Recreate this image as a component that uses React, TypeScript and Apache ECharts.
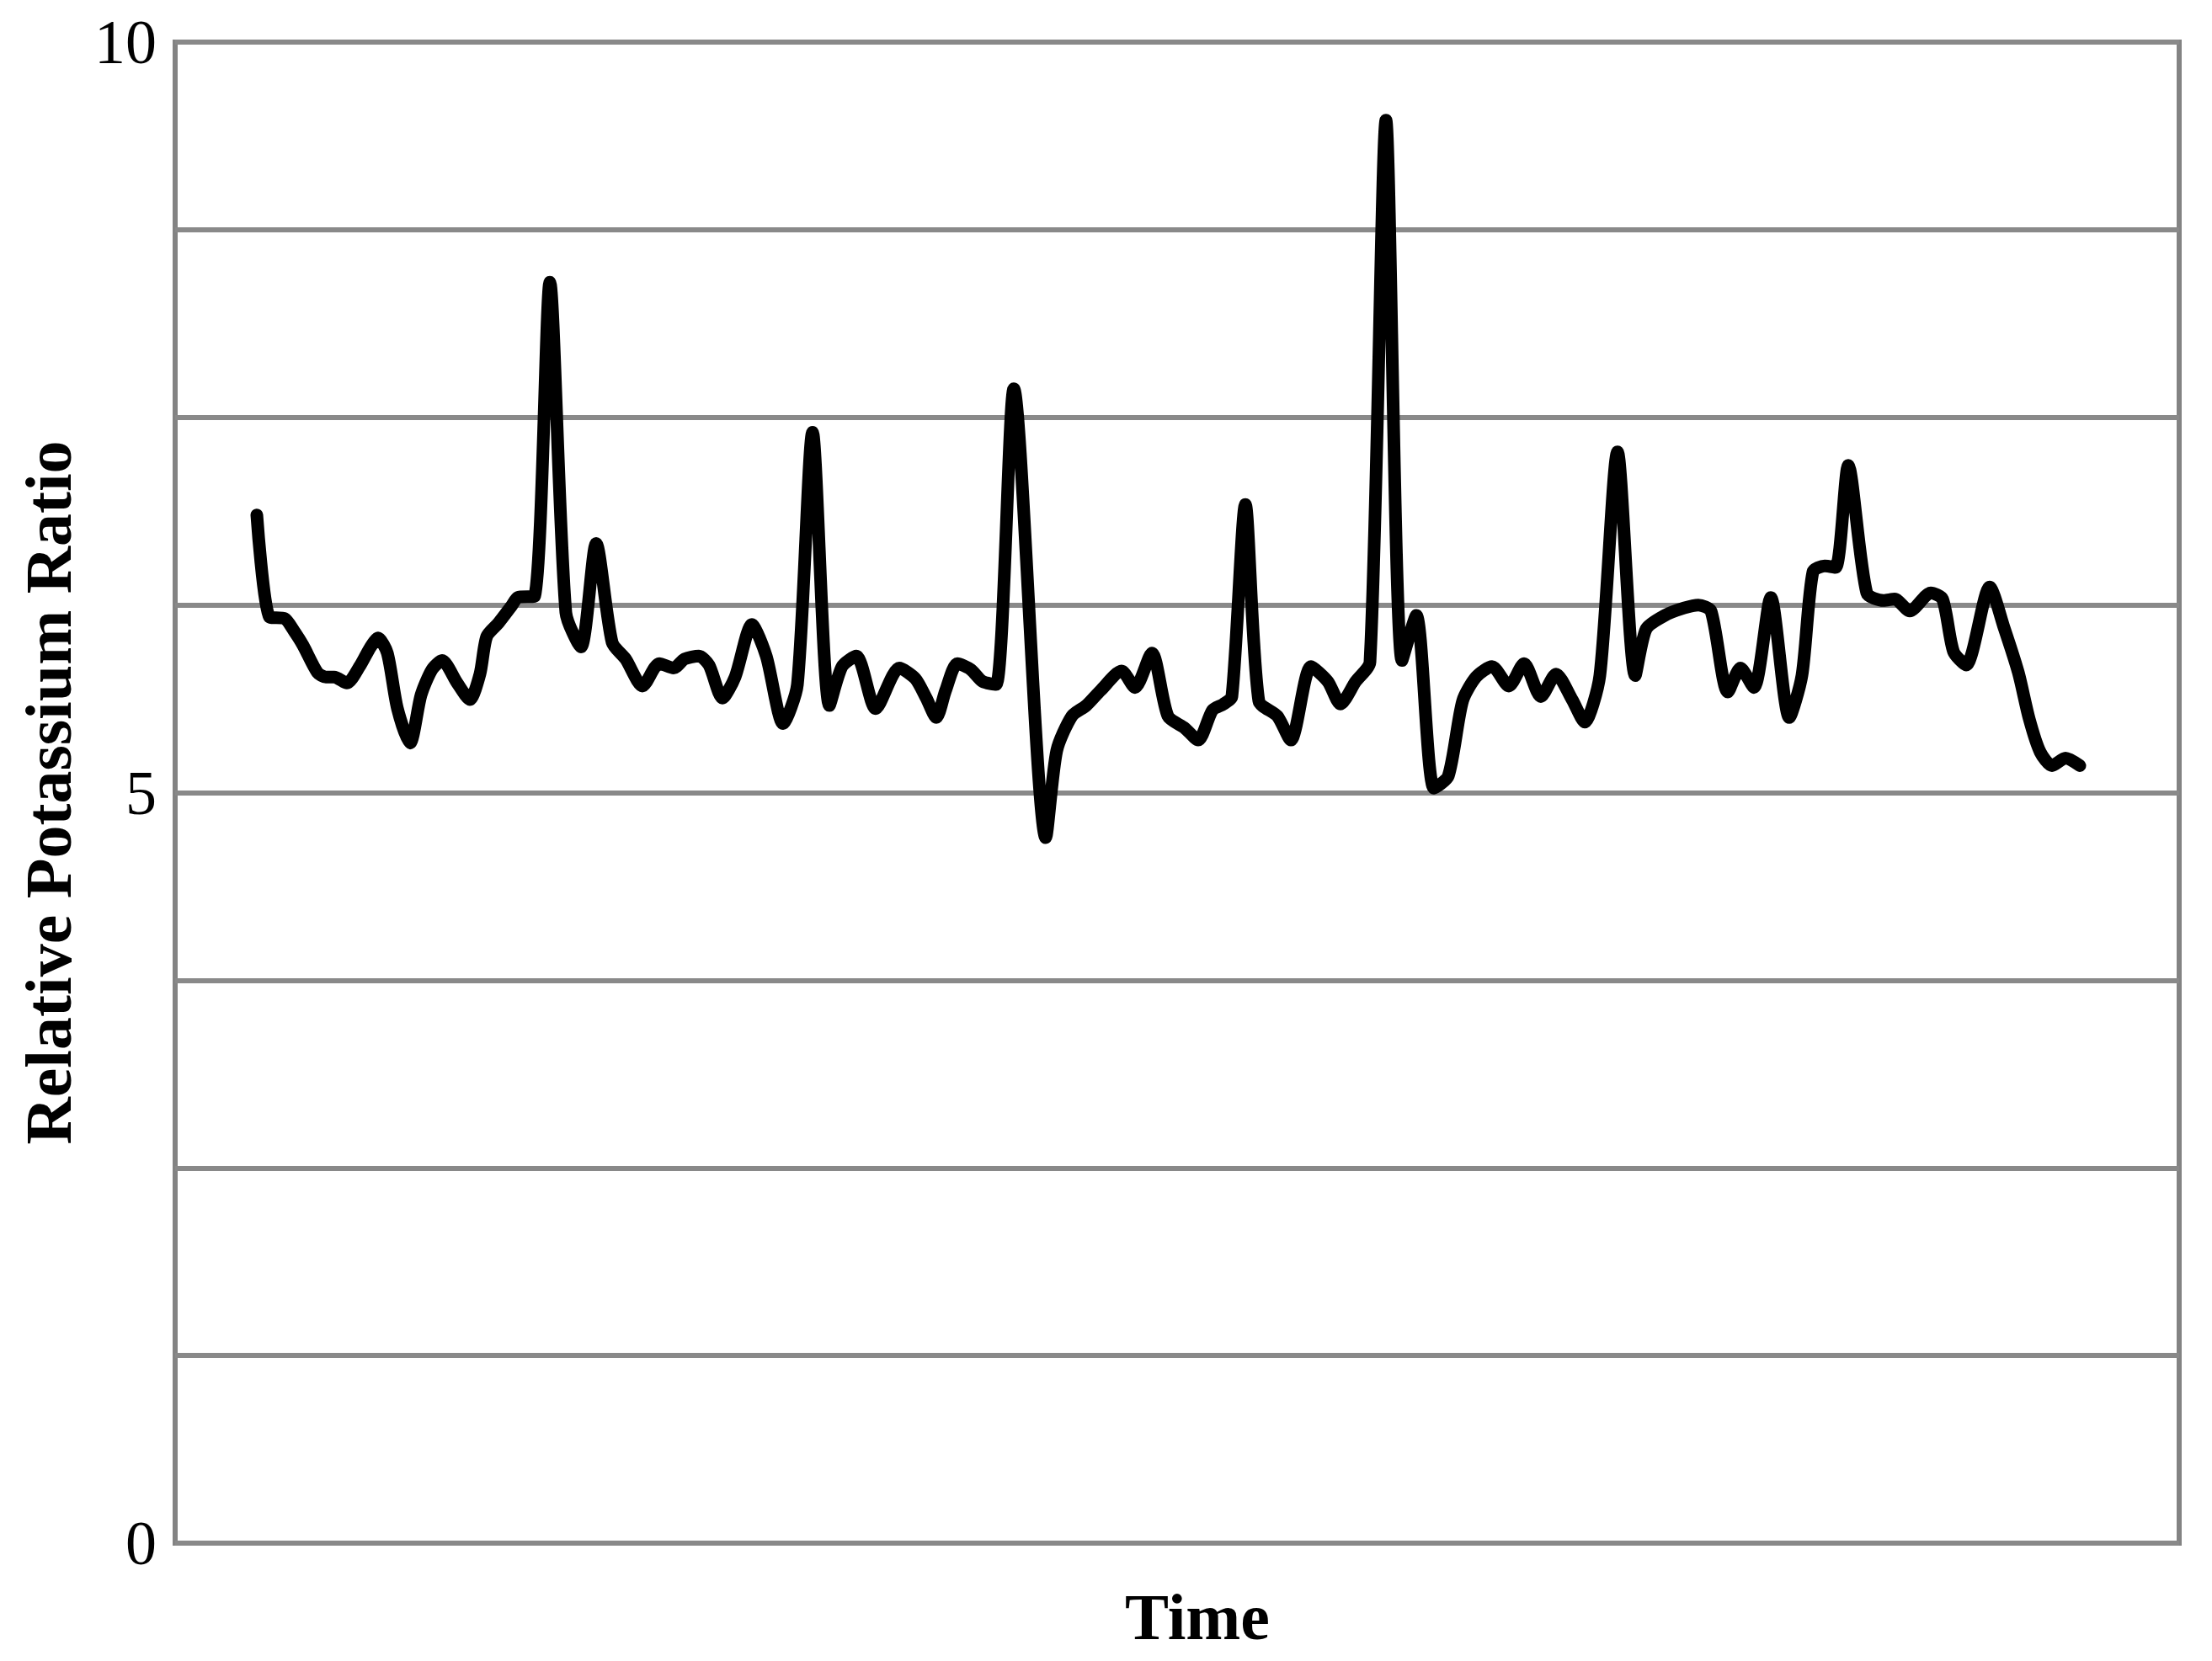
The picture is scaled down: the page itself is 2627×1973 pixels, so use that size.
import React, { useEffect, useRef } from "react";
import * as echarts from "echarts";

// Time (arbitrary units along the hidden time axis)
const times: number[] = [
  9.7, 11.2, 13.0, 14.2, 15.2, 16.9, 17.9, 18.9, 20.4, 21.9, 23.2, 24.1, 25.2, 26.4, 27.9, 29.2,
  30.5, 31.7, 33.5, 35.0, 36.2, 37.0, 38.4, 39.9, 40.7, 42.7, 44.5, 46.4, 48.2, 50.0, 51.9, 53.5,
  55.5, 57.5, 59.2, 60.5, 62.2, 63.4, 65.0, 66.5, 68.5, 70.2, 72.2, 73.9, 75.7, 77.7, 79.2, 80.9,
  83.2, 86.0, 87.9, 89.2, 90.4, 91.5, 92.9, 94.5, 95.9, 97.5, 99.6, 103.4, 104.7, 106.5, 108.2,
  109.9, 112.4, 114.0, 116.0, 117.9, 119.9, 121.5, 123.2, 124.5, 125.5, 127.1, 128.7, 130.9, 132.5,
  134.9, 136.9, 138.4, 140.2, 141.9, 143.8, 145.7, 147.4, 149.5, 151.2, 152.9, 154.5, 156.4, 158.4,
  160.2, 162.2, 164.0, 165.9, 167.4, 169.2, 171.3, 173.4, 174.7, 176.9, 179.2, 180.9, 182.4, 184.4,
  185.9, 187.5, 189.5, 191.7, 193.2, 194.5, 195.9, 197.2, 198.7, 200.9, 202.9, 204.2, 206.0, 208.5,
  209.9, 211.2, 212.7, 215.5, 217.2, 218.9, 220.2, 221.5, 222.9, 224.5, 226.2,
];

// Relative potassium ratio
const ratios: number[] = [
  6.85, 6.17, 6.16, 6.07, 5.98, 5.8, 5.77, 5.77, 5.73, 5.84, 5.97, 6.03, 5.93, 5.56, 5.33, 5.65,
  5.82, 5.88, 5.73, 5.62, 5.79, 6.04, 6.13, 6.24, 6.3, 6.31, 8.4, 6.2, 5.97, 6.66, 6.0, 5.89,
  5.71, 5.86, 5.83, 5.89, 5.91, 5.85, 5.63, 5.77, 6.12, 5.91, 5.46, 5.72, 7.4, 5.58, 5.84, 5.91,
  5.56, 5.83, 5.76, 5.63, 5.5, 5.68, 5.86, 5.82, 5.74, 5.72, 7.69, 4.7, 5.28, 5.51, 5.58,
  5.68, 5.81, 5.7, 5.93, 5.51, 5.43, 5.35, 5.55, 5.59, 5.64, 6.92, 5.61, 5.51, 5.35,
  5.84, 5.74, 5.59, 5.74, 5.87, 9.48, 5.88, 6.18, 5.03, 5.11, 5.61, 5.77, 5.84, 5.71,
  5.86, 5.64, 5.79, 5.62, 5.47, 5.78, 7.27, 5.78, 6.09, 6.18, 6.23, 6.25, 6.21, 5.67,
  5.83, 5.7, 6.3, 5.5, 5.78, 6.47, 6.51, 6.5, 7.18, 6.33, 6.28, 6.29, 6.21, 6.33,
  6.29, 5.94, 5.85, 6.37, 6.1, 5.8, 5.49, 5.27, 5.18, 5.23, 5.18,
];

const yTickLabels: number[] = [0, 5, 10];

const FONT = "'Liberation Serif', 'Times New Roman', serif";

export default function App() {
  const ref = useRef<HTMLDivElement>(null);

  useEffect(() => {
    if (!ref.current) return;
    const chart = echarts.init(ref.current, undefined, { renderer: "svg" });
    const data = times.map((t, i) => [t, ratios[i]]);
    chart.setOption({
      animation: false,
      backgroundColor: "#ffffff",
      grid: {
        left: 208,
        right: 39,
        top: 50,
        bottom: 140,
        show: true,
        borderColor: "#838383",
        borderWidth: 6,
        backgroundColor: "transparent",
      },
      xAxis: {
        type: "value",
        min: 0,
        max: 238,
        name: "Time",
        nameLocation: "middle",
        nameGap: 48,
        nameTextStyle: {
          fontFamily: FONT,
          fontWeight: "bold",
          fontSize: 78,
          color: "#000",
          padding: [0, 0, 0, 48],
        },
        axisLine: { show: false },
        axisTick: { show: false },
        axisLabel: { show: false },
        splitLine: { show: false },
      },
      yAxis: {
        type: "value",
        min: 0,
        max: 10,
        interval: 1.25,
        name: "Relative Potassium Ratio",
        nameLocation: "middle",
        nameGap: 112,
        nameTextStyle: {
          fontFamily: FONT,
          fontWeight: "bold",
          fontSize: 78,
          color: "#000",
        },
        axisLine: { show: false },
        axisTick: { show: false },
        axisLabel: {
          margin: 22,
          fontFamily: FONT,
          fontSize: 74,
          color: "#000",
          formatter: (v: number) => (yTickLabels.includes(v) ? String(v) : ""),
        },
        splitLine: { show: true, lineStyle: { color: "#898989", width: 6 } },
      },
      series: [
        {
          type: "line",
          data,
          smooth: 0.25,
          showSymbol: false,
          lineStyle: { color: "#000000", width: 15, join: "round", cap: "round" },
        },
      ],
    });
    return () => chart.dispose();
  }, []);

  return (
    <div
      ref={ref}
      style={{ position: "fixed", left: 0, top: 0, width: 2627, height: 1973, background: "#fff" }}
    />
  );
}
